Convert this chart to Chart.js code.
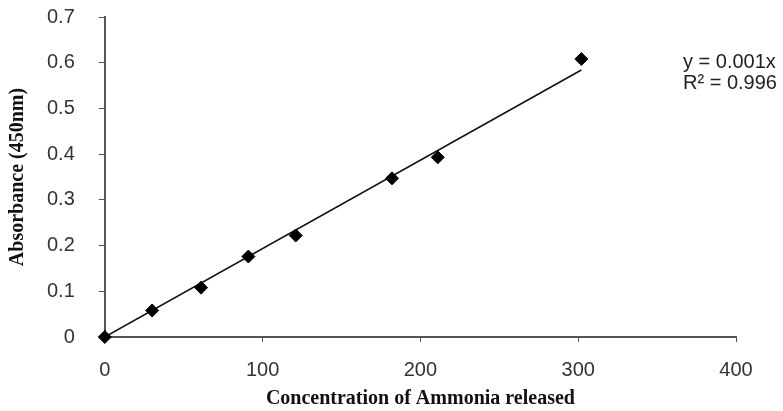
<!DOCTYPE html>
<html>
<head>
<meta charset="utf-8">
<script src="https://cdn.jsdelivr.net/npm/chart.js@4"></script>
<style>
  html, body { margin: 0; padding: 0; background: #fff; }
  #wrap { width: 783px; height: 411px; }
</style>
</head>
<body>
<div id="wrap"><canvas id="chart" width="783" height="411"></canvas></div>
<script>
// Standard curve: ammonia concentration vs absorbance
const concentration = [0, 30, 61, 91, 121, 182, 211, 302];
const absorbance = [0, 0.058, 0.108, 0.176, 0.222, 0.347, 0.393, 0.608];

// Trend line ends
const trendX = [0, 302];
const trendY = [0, 0.584];

const equationLines = ['y = 0.001x', 'R\u00b2 = 0.996'];

const axisColor = '#555';
const tickColor = '#333';
const sansFont = '"Liberation Sans", Arial, sans-serif';
const serifFont = '"Liberation Serif", "Times New Roman", serif';

const equationLabel = {
    id: 'equationLabel',
    afterDraw(chart) {
        const ctx = chart.ctx;
        const area = chart.chartArea;
        ctx.save();
        ctx.fillStyle = '#222';
        ctx.font = '20px ' + sansFont;
        ctx.textBaseline = 'middle';
        ctx.textAlign = 'left';
        equationLines.forEach((line, i) => {
            ctx.fillText(line, area.right - 53, 62 + i * 21);
        });
        ctx.restore();
    }
};

new Chart(document.getElementById('chart'), {
    type: 'scatter',
    data: {
        datasets: [{
            label: 'Absorbance',
            data: concentration.map((x, i) => ({ x: x, y: absorbance[i] })),
            pointStyle: 'rectRot',
            pointRadius: 6.5,
            backgroundColor: '#000',
            borderColor: '#000',
            showLine: false,
            clip: false
        }, {
            label: 'Linear',
            data: trendX.map((x, i) => ({ x: x, y: trendY[i] })),
            showLine: true,
            pointRadius: 0,
            borderColor: '#111',
            borderWidth: 1.5
        }]
    },
    options: {
        responsive: false,
        animation: false,
        layout: { padding: { left: 6, right: 47, top: 17, bottom: 0 } },
        plugins: {
            legend: { display: false },
            tooltip: { enabled: false }
        },
        scales: {
            x: {
                type: 'linear',
                min: 0,
                max: 400,
                ticks: {
                    stepSize: 100,
                    color: tickColor,
                    padding: 16,
                    font: { family: sansFont, size: 20 }
                },
                grid: {
                    drawOnChartArea: false,
                    drawTicks: true,
                    tickLength: 5,
                    color: axisColor
                },
                border: { display: true, color: axisColor, width: 2 },
                title: {
                    display: true,
                    text: 'Concentration of Ammonia released',
                    color: '#111',
                    padding: { top: -11, bottom: 0 },
                    font: { family: serifFont, size: 20, weight: 'bold' }
                }
            },
            y: {
                type: 'linear',
                min: 0,
                max: 0.7,
                ticks: {
                    stepSize: 0.1,
                    color: tickColor,
                    padding: 0,
                    font: { family: sansFont, size: 20 }
                },
                grid: {
                    drawOnChartArea: false,
                    drawTicks: true,
                    // long tick slot for label spacing, dash keeps only the 6px next to the axis
                    tickLength: 30,
                    tickBorderDash: [0, 24, 6, 100],
                    color: axisColor
                },
                border: { display: true, color: axisColor, width: 2 },
                title: {
                    display: true,
                    text: 'Absorbance (450nm)',
                    color: '#111',
                    padding: { top: 0, bottom: 17 },
                    font: { family: serifFont, size: 20, weight: 'bold' }
                }
            }
        }
    },
    plugins: [equationLabel]
});
</script>
</body>
</html>
